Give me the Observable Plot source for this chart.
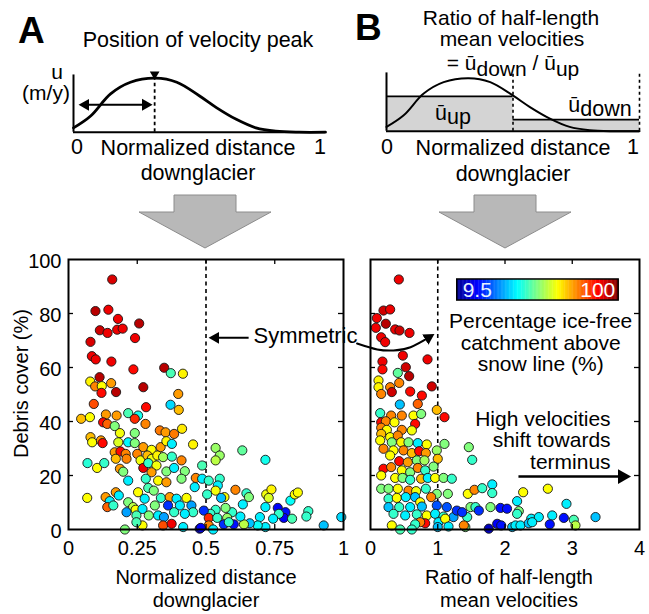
<!DOCTYPE html>
<html><head><meta charset="utf-8">
<script src="https://cdn.jsdelivr.net/npm/d3@7"></script>
<script src="https://cdn.jsdelivr.net/npm/@observablehq/plot@0.6"></script>
<style>
html,body{margin:0;padding:0;background:#fff;}
#fig{position:relative;width:649px;height:614px;overflow:hidden;background:#fff;}
#fig > svg{position:absolute;left:0;top:0;}
</style></head><body><div id="fig"></div>
<script>
// ---------- Data: panel A (normalized distance of velocity peak) ----------
const distA = [0.159,0.098,0.145,0.18,0.257,0.114,0.142,0.177,0.197,0.242,0.08,0.085,0.099,0.156,0.236,0.348,0.372,0.416,0.113,0.079,0.097,0.121,0.155,0.272,0.399,0.173,0.12,0.401,0.371,0.282,0.092,
0.046,0.078,0.136,0.175,0.217,0.253,0.28,0.241,0.126,0.141,0.168,0.187,0.241,0.332,0.353,0.384,0.413,0.08,0.086,0.118,0.124,0.181,0.217,0.241,0.272,0.302,0.335,0.356,0.376,0.453,
0.168,0.189,0.208,0.172,0.211,0.25,0.262,0.287,0.303,0.323,0.344,0.376,0.411,0.069,0.104,0.13,0.187,0.272,0.29,0.32,0.302,0.356,0.384,0.423,0.463,0.199,0.217,0.281,0.326,0.356,0.411,0.459,
0.29,0.31,0.253,0.068,0.135,0.172,0.183,0.217,0.15,0.141,0.163,0.235,0.277,0.314,0.336,0.368,0.393,0.429,0.362,0.405,0.447,0.453,0.244,0.269,0.211,0.247,0.292,0.326,0.347,0.269,0.247,0.205,
0.344,0.375,0.417,0.477,0.384,0.423,
0.535,0.55,0.535,0.632,0.716,0.486,0.486,0.51,0.55,0.543,0.535,0.504,0.567,0.555,0.607,0.647,0.656,0.634,0.719,0.738,0.728,0.716,0.761,0.789,0.783,0.807,0.823,0.834,0.872,0.865,0.813,0.765,
0.744,0.696,0.716,0.688,0.659,0.638,0.928,0.992,0.625,0.595,0.571,0.535,0.516,0.492,0.51,0.541,0.577,0.565,0.601,0.51,0.526,0.583,0.481];
const debrisA = [92.6,80.9,81.4,78,76.3,73.8,72.8,74,74.4,70.9,69.5,64.2,63,62.2,59.3,59.9,57.9,57.7,56.4,54.8,53,53.1,54.2,52.7,50.2,50.9,50.6,44.3,46.2,45.3,46.5,
41,41.6,42.6,42.2,43.1,42.2,39.1,41,39.7,39.1,38.3,35.7,35.7,36.7,36,35.4,37.3,34.2,32.3,33,32,32.3,32.3,32,30.5,29.5,30.5,32.7,31.7,31.5,
28.6,28.9,28,26.2,26.2,28,25.6,27.4,26.2,27.4,26.8,27,25.6,24.6,22.8,24.6,22.5,22.8,24.6,23.7,21.2,21.5,22.8,21.6,19.1,21.4,18.1,18.8,18.1,17.5,18.8,15.7,
15.4,14.4,13.8,11.7,12,13.8,12.6,10.1,10.5,8.3,8.9,8.3,11.4,8.9,11.7,12,11.4,11.7,8.9,8.9,8.9,6.4,7.3,7.6,6.4,5.2,5.2,5.2,4.6,1.5,2.7,0,
1.5,2.1,0.9,0.3,6.4,5.8,
30.2,27.4,25.6,29.3,25.8,23.7,18.8,18.1,18.8,16.3,14.4,13,12,11.7,14.7,13.4,12,9.3,13,14.8,11.7,8.3,8,6.4,4.3,10.7,13,13.7,6.8,4.8,4,5.8,
4,4.6,0.9,1.5,2.3,1.9,1.5,4.6,4.8,6.4,8,7.3,5.8,7,4.3,4.3,4.3,1.9,1.9,1.5,0,2.7,0.6];
const catchA = [92,95,90,90,95,93,90,90,90,90,92,90,90,90,88,95,50,67,95,67,77,66,75,95,75,95,88,72,40,88,82,
72,66,75,75,50,45,77,85,88,80,55,65,55,78,75,78,68,72,66,75,88,63,43,55,75,66,75,67,42,67,
75,88,77,72,77,77,65,72,65,67,58,48,77,47,66,48,75,90,48,65,75,55,42,55,77,55,42,48,66,75,55,42,
50,55,66,66,75,75,42,55,42,80,48,60,42,55,48,75,42,66,25,42,35,48,66,42,35,50,55,42,35,66,50,55,
82,90,42,18,48,42,
57,57,60,52,45,50,42,48,48,42,65,48,66,38,77,48,55,42,65,67,63,42,20,22,20,44,66,66,48,48,50,48,
42,42,42,44,38,60,38,40,42,48,55,48,48,25,85,48,57,25,22,77,42,48,20];

// ---------- Data: panel B (ratio of half-length mean velocities) ----------
const ratioB = [0.421,0.193,0.292,0.094,0.228,0.079,0.367,0.431,0.58,0.159,0.218,0.481,0.178,0.178,0.848,0.525,0.406,0.575,0.427,0.119,0.119,0.292,0.59,0.912,0.159,0.317,0.764,0.436,0.703,0.986,1.1,
0.144,0.307,0.466,0.639,0.753,0.159,0.228,0.357,0.664,0.159,0.243,0.466,0.615,0.159,0.292,0.406,0.144,0.317,0.456,0.565,0.703,0.837,1.1,0.193,0.342,0.491,0.615,0.724,0.823,0.986,
0.292,0.427,0.555,0.689,0.803,1.0,0.193,0.307,0.466,0.59,0.703,0.813,0.937,0.159,0.367,0.476,0.59,0.753,0.852,0.961,1.086,1.209,0.159,0.268,0.406,0.565,0.679,0.823,0.986,1.15,
0.268,0.391,0.525,0.664,0.739,0.902,0.268,0.427,0.59,0.764,0.986,1.135,0.342,0.516,0.689,0.837,0.961,1.086,1.234,1.284,0.813,0.739,0.664,1.011,1.11,1.16,0.317,0.441,0.615,1.0,1.41,
1.462,1.512,1.447,1.546,1.661,1.81,1.81,2.27,2.637,2.18,2.914,1.487,1.561,1.611,1.784,1.933,1.438,1.363,2.205,2.18,2.39,2.503,2.702,2.875,3.023,3.048,3.346,1.884,1.944,1.759,2.107,2.156,2.23,2.354,2.404,2.666,1.388,2.03];
const debrisB = [92.6,81.1,81.5,78.3,76.2,74.7,74.1,73.7,72.8,71.2,69.4,64.4,62.2,59.3,63,60.1,58,56.8,54.3,55.2,52.7,52.7,51.1,53,50.2,50.9,49.6,46.3,46.5,44.3,41.6,
43.1,42.2,42.2,42.2,42.8,39.7,40.1,39.7,39.1,37.7,36.9,36.9,36.7,35.4,34.2,34.8,33,32.3,32.3,32.3,32,31.5,31.7,29.9,29.3,29.3,28.3,29,28.3,29.3,
27.4,25.3,24.9,25.6,25.6,26.2,22.5,23.1,21.9,21.2,22.8,21.9,23.3,20,19.1,19.1,18.4,18.8,19.1,19.1,19.1,18.8,15.1,15.1,15.1,14.4,14.2,15.1,13.2,13.2,
11.4,11.7,12,12,10.1,12,8.3,8.3,8.3,8.5,8.9,8.3,5.8,5.2,5.6,5.2,5.8,4.8,4.6,7,2.3,2.7,1.9,2.7,4,1.1,1.5,0,0,0.9,0.9,
30.5,25.8,13.2,14.7,15.3,16.7,13.5,13.8,15.1,10.5,9.5,8.3,8.3,7,8.3,8,4.6,6.4,6.8,5.8,4,4.6,5.2,4.3,3.6,1.5,4.6,2.1,1.5,0.3,0.9,1.5,1.5,2.3,2.7,1.9,1.5,7.7];
const catchB = [90,93,90,90,95,90,90,93,90,90,90,90,90,88,90,93,52,95,77,67,67,77,88,93,77,93,88,38,80,72,88,
48,77,77,66,55,88,77,66,88,77,66,77,65,72,66,77,66,55,67,55,42,66,55,77,66,77,72,88,75,57,
66,88,75,55,58,72,88,77,66,55,77,48,55,66,66,55,48,72,42,66,55,48,55,55,66,77,65,48,55,55,
48,66,42,38,66,77,38,48,42,38,28,28,48,42,48,66,42,48,35,25,88,77,48,42,66,42,66,50,48,38,55,
55,48,66,77,48,42,48,66,66,42,42,55,48,25,55,22,48,25,55,48,42,42,42,22,50,60,38,20,22,14,38,42,42,38,42,22,77,22];

// ---------- Schematic velocity profile ----------
const profX = [0,0.068,0.147,0.226,0.325,0.41,0.499,0.567,0.646,0.724,0.803,0.895,1];
const profU = [0.08,0.3,0.71,0.925,1.0,0.925,0.675,0.456,0.238,0.081,0.019,0,0];
const peakX = 0.322;
const halfStart = [0, 0.5], halfEnd = [0.5, 1], halfMean = [0.656, 0.22];

// ---------- Ticks & labels ----------
const xTicksA = [0, 0.25, 0.5, 0.75, 1];
const xTicksB = [0, 1, 2, 3, 4];
const yTicks = [0, 20, 40, 60, 80, 100];
const cbMin = 9.5, cbMax = 100;

const W = 649, H = 614;
const FONT = "'Liberation Sans', Arial, Helvetica, sans-serif";
const baseStyle = {background: "transparent", overflow: "visible", fontFamily: FONT, color: "#000"};
const jet = {type: "linear", domain: [9.5, 20.8, 43.4, 66.1, 88.7, 100],
  range: ["#00008f", "#0000ff", "#00ffff", "#ffff00", "#ff0000", "#800000"], interpolate: "rgb"};

function fillMarkers(svg) {
  svg.querySelectorAll("marker").forEach(m => {
    const c = m.getAttribute("stroke") || "#000";
    m.setAttribute("fill", c); m.setAttribute("stroke", "none");
    const p = m.querySelector("path"); if (p) p.setAttribute("d", "M-5,-4.5L3,0L-5,4.5Z");
  });
  return svg;
}
const fig = document.getElementById("fig");
const profile = profX.map((x, i) => ({x, u: profU[i]}));
const halves = [0, 1];

// ---------- Schematic A ----------
const schemA = Plot.plot({
  width: W, height: H, marginLeft: 73, marginRight: W - 325, marginTop: 77.7, marginBottom: H - 131.7,
  x: {domain: [0, 1], axis: null}, y: {domain: [0, 1], axis: null}, style: baseStyle,
  marks: [
    Plot.ruleY([0], {strokeWidth: 2}),
    Plot.ruleX([0], {y1: 0, y2: 1.06, strokeWidth: 2}),
    Plot.ruleX([peakX], {y1: 0, y2: 1, strokeDasharray: "3.5,3", strokeWidth: 1.8}),
    Plot.line(profile, {x: "x", y: "u", curve: "catmull-rom", strokeWidth: 2.8}),
    Plot.dot([peakX], {x: d => d, y: 1, dy: -4, symbol: "triangle", rotate: 180, r: 3.6, fill: "#000"}),
    Plot.link([peakX], {x1: 0.036, x2: peakX - 0.024, y1: 0.507, y2: 0.507, strokeWidth: 2, markerStart: "arrow-reverse", markerEnd: "arrow"})
  ]
});
fig.appendChild(fillMarkers(schemA));

// ---------- Schematic B ----------
const schemB = Plot.plot({
  width: W, height: H, marginLeft: 386, marginRight: W - 639, marginTop: 77.7, marginBottom: H - 130.7,
  x: {domain: [0, 1], axis: null}, y: {domain: [0, 1], axis: null}, style: baseStyle,
  marks: [
    Plot.rect(halves, {x1: i => halfStart[i], x2: i => halfEnd[i], y1: 0, y2: i => halfMean[i], fill: "#d4d4d4"}),
    Plot.ruleY(halves, {x1: i => halfStart[i], x2: i => halfEnd[i], y: i => halfMean[i], strokeWidth: 1.8}),
    Plot.line(profile, {x: "x", y: "u", curve: "catmull-rom", strokeWidth: 2}),
    Plot.ruleY([0], {strokeWidth: 2}),
    Plot.ruleX([0], {y1: 0, y2: 1.1, strokeWidth: 2}),
    Plot.ruleX([0.5, 1], {y1: 0, y2: 1.12, strokeDasharray: "3,3", strokeWidth: 1.6})
  ]
});
fig.appendChild(schemB);

// ---------- Scatter A ----------
const idxA = d3.range(distA.length);
const plotA = Plot.plot({
  width: W, height: H, marginLeft: 68, marginRight: W - 343, marginTop: 259, marginBottom: H - 529,
  x: {domain: [0, 1]}, y: {domain: [0, 100]}, color: jet, style: baseStyle,
  marks: [
    Plot.ruleX([0.5], {strokeDasharray: "4,3.5", strokeWidth: 1.6}),
    Plot.dot(idxA, {x: i => distA[i], y: i => debrisA[i], fill: i => catchA[i], r: 4.6, stroke: "#151515", strokeWidth: 0.9}),
    Plot.ruleX(xTicksA.slice(1, -1), {insetTop: 265, strokeWidth: 1.3}),
    Plot.ruleX(xTicksA.slice(1, -1), {insetBottom: 265, strokeWidth: 1.3}),
    Plot.ruleY(yTicks.slice(1, -1), {insetRight: 270, strokeWidth: 1.3}),
    Plot.ruleY(yTicks.slice(1, -1), {insetLeft: 270, strokeWidth: 1.3}),
    Plot.frame({strokeWidth: 2}),
    Plot.axisX({ticks: xTicksA, tickFormat: d => String(d), tickSize: 0, tickPadding: 11, fontSize: 20, label: null}),
    Plot.axisY({ticks: yTicks, tickFormat: d => String(d), tickSize: 0, tickPadding: 7, fontSize: 20, label: null, dy: 2}),
    Plot.text(["Normalized distance\ndownglacier"], {frameAnchor: "bottom", lineAnchor: "middle", textAnchor: "middle", dy: 59, fontSize: 20, lineHeight: 1.12}),
    Plot.text(["Debris cover (%)"], {frameAnchor: "left", textAnchor: "middle", lineAnchor: "middle", rotate: -90, dx: -47, dy: -11, fontSize: 20}),
    Plot.link([0], {x1: 0.655, x2: 0.524, y1: 71, y2: 71, strokeWidth: 2, markerEnd: "arrow"}),
    Plot.text(["Symmetric"], {x: 0.673, y: 71.5, textAnchor: "start", fontSize: 22})
  ]
});
fig.appendChild(fillMarkers(plotA));

// ---------- Scatter B ----------
const idxB = d3.range(ratioB.length);
const cb = {x0: 1.29, x1: 3.69, y0: 84.8, y1: 92.6};
const cbN = 120;
const cbSteps = d3.range(cbN).map(i => ({
  v: cbMin + (i + 0.5) * (cbMax - cbMin) / cbN,
  x1: cb.x0 + i * (cb.x1 - cb.x0) / cbN,
  x2: cb.x0 + (i + 1.3) * (cb.x1 - cb.x0) / cbN
}));
const curvedArrow = [{x: -0.2, y: 68.9}, {x: 0.1, y: 66.7}, {x: 0.342, y: 66.3}, {x: 0.595, y: 67.5}, {x: 0.9, y: 71.6}];
const plotB = Plot.plot({
  width: W, height: H, marginLeft: 370, marginRight: W - 639, marginTop: 259, marginBottom: H - 529,
  x: {domain: [0, 4]}, y: {domain: [0, 100], axis: null}, color: jet, style: baseStyle,
  marks: [
    Plot.ruleX([1], {strokeDasharray: "4,3.5", strokeWidth: 1.6}),
    Plot.dot(idxB, {x: i => ratioB[i], y: i => debrisB[i], fill: i => catchB[i], r: 4.6, stroke: "#151515", strokeWidth: 0.9}),
    Plot.ruleX(xTicksB.slice(1, -1), {insetTop: 265, strokeWidth: 1.3}),
    Plot.ruleX(xTicksB.slice(1, -1), {insetBottom: 265, strokeWidth: 1.3}),
    Plot.ruleY(yTicks.slice(1, -1), {insetRight: 264, strokeWidth: 1.3}),
    Plot.ruleY(yTicks.slice(1, -1), {insetLeft: 264, strokeWidth: 1.3}),
    Plot.frame({strokeWidth: 2}),
    Plot.axisX({ticks: xTicksB, tickFormat: d => String(d), tickSize: 0, tickPadding: 11, fontSize: 20, label: null}),
    Plot.text(["Ratio of half-length\nmean velocities"], {frameAnchor: "bottom", lineAnchor: "middle", textAnchor: "middle", dy: 59, dx: 4, fontSize: 20, lineHeight: 1.12}),
    // colour bar
    Plot.rect(cbSteps, {x1: "x1", x2: "x2", y1: cb.y0, y2: cb.y1, fill: "v"}),
    Plot.rect([0], {x1: cb.x0, x2: cb.x1, y1: cb.y0, y2: cb.y1, fill: "none", stroke: "#000", strokeWidth: 1.5}),
    Plot.text(["9.5"], {x: 1.37, y: 88.7, textAnchor: "start", fontSize: 21, fill: "#e6f2ff"}),
    Plot.text(["100"], {x: 3.64, y: 88.7, textAnchor: "end", fontSize: 21, fill: "#ffffff"}),
    Plot.text(["Percentage ice-free\ncatchment above\nsnow line (%)"], {x: 2.53, y: 69.1, fontSize: 21, lineHeight: 1.02}),
    Plot.text(["High velocities\nshift towards\nterminus"], {x: 3.57, y: 33, textAnchor: "end", fontSize: 21, lineHeight: 1.02}),
    Plot.link([0], {x1: 2.2, x2: 3.8, y1: 19.6, y2: 19.6, strokeWidth: 2.5, markerEnd: "arrow"}),
    Plot.line(curvedArrow, {x: "x", y: "y", curve: "natural", strokeWidth: 2, markerEnd: "arrow"})
  ]
});
fig.appendChild(fillMarkers(plotB));

// ---------- Overlay: panel letters, titles, schematic labels, big arrows ----------
const ov = d3.create("svg").attr("width", W).attr("height", H)
  .style("font-family", FONT).style("overflow", "visible");
function txt(x, y, s, size, opts = {}) {
  const t = ov.append("text").attr("x", x).attr("y", y).attr("font-size", size)
    .attr("text-anchor", opts.anchor || "middle").attr("font-weight", opts.bold ? "bold" : null).attr("fill", "#000");
  t.text(s);
  return t;
}
function sub(t, main, subText, dy) {
  t.text(null);
  t.append("tspan").text(main);
  t.append("tspan").attr("dy", dy).text(subText);
  return t;
}
// grey arrows
const arrowShape = cx => `M${cx - 31},195 H${cx + 31} V212 H${cx + 66} L${cx},248 L${cx - 66},212 H${cx - 31} Z`;
ov.append("path").attr("d", arrowShape(205)).attr("fill", "#b8b8b8").attr("stroke", "#8c8c8c").attr("stroke-width", 1);
ov.append("path").attr("d", arrowShape(505)).attr("fill", "#b8b8b8").attr("stroke", "#8c8c8c").attr("stroke-width", 1);

txt(18, 43, "A", 37, {anchor: "start", bold: true});
txt(355, 40, "B", 37, {anchor: "start", bold: true});
txt(198, 47, "Position of velocity peak", 21.5);
txt(57, 79, "u", 21);
txt(46, 100, "(m/y)", 21);
txt(77, 154, "0", 21.5);
txt(320, 154, "1", 21.5);
txt(198, 155, "Normalized distance", 21.5);
txt(198, 180, "downglacier", 21.5);

txt(511, 25, "Ratio of half-length", 21);
txt(512, 46, "mean velocities", 21);
{
  const t = ov.append("text").attr("x", 513).attr("y", 70).attr("font-size", 21).attr("text-anchor", "middle");
  t.append("tspan").text("= ū");
  t.append("tspan").attr("dy", 6).text("down");
  t.append("tspan").attr("dy", -6).text(" / ū");
  t.append("tspan").attr("dy", 6).text("up");
}
sub(txt(453, 120, "", 21.5), "ū", "up", 4);
sub(txt(600, 112, "", 21.5), "ū", "down", 4);
txt(387, 154, "0", 21.5);
txt(633, 154, "1", 21.5);
txt(513, 155, "Normalized distance", 21.5);
txt(513, 181, "downglacier", 21.5);
fig.appendChild(ov.node());
</script></body></html>
